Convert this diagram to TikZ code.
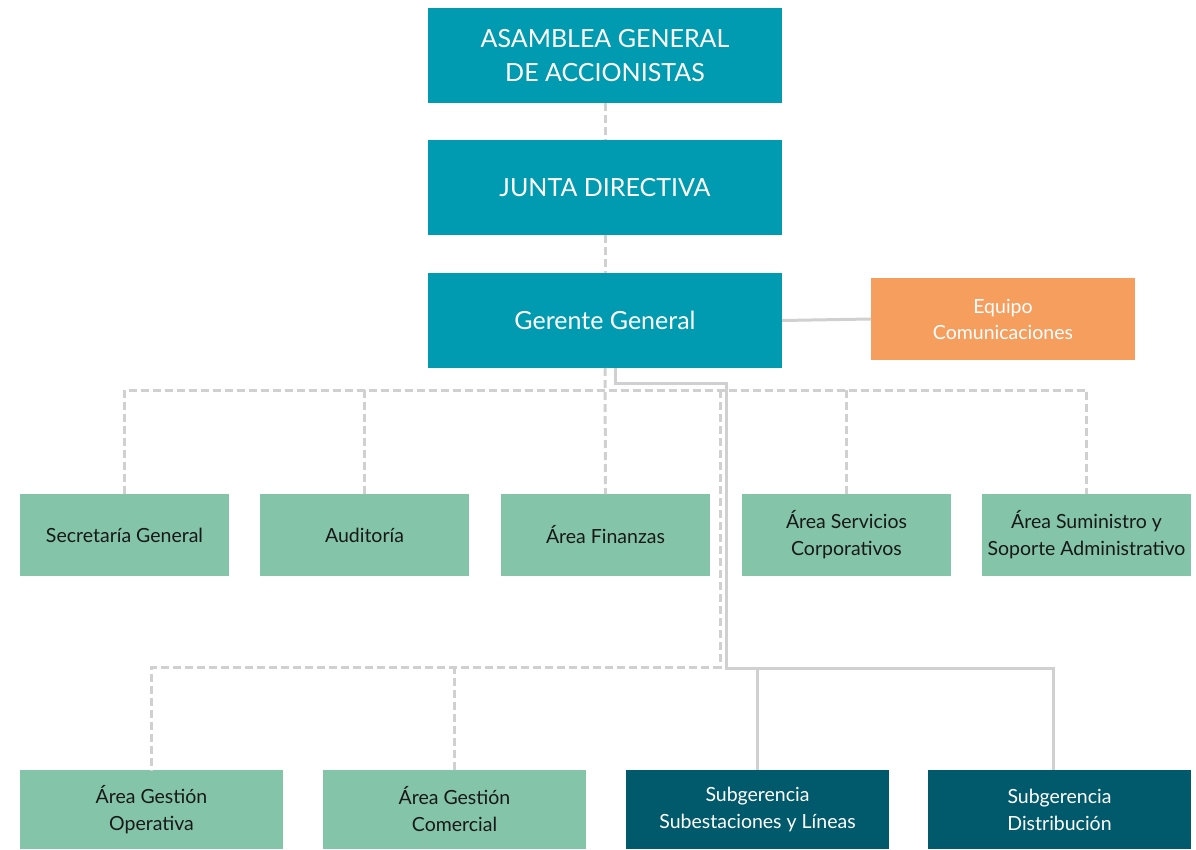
\documentclass[tikz,border=0pt]{standalone}
\usepackage{fontspec}
\setmainfont{Lato}
\usepackage{tikz}

\definecolor{TealBox}{RGB}{0,155,176}
\definecolor{GreenBox}{RGB}{132,196,168}
\definecolor{OrangeBox}{RGB}{245,158,94}
\definecolor{DarkBox}{RGB}{0,90,108}
\definecolor{LineGray}{RGB}{208,208,208}

\begin{document}
\begin{tikzpicture}[x=1pt, y=-1pt]
\useasboundingbox (0,0) rectangle (1196,850);

\tikzset{BoxStyle/.style = {
 shape = rectangle,
 inner sep = 0pt,
 outer sep = 0pt,
 align = center} }
\tikzset{TopStyle/.style = {BoxStyle, fill = TealBox, text = white,
 minimum width = 354pt, minimum height = 95pt,
 font = \fontsize{25}{34}\selectfont} }
\tikzset{SideStyle/.style = {BoxStyle, fill = OrangeBox, text = white,
 minimum width = 264pt, minimum height = 82pt,
 font = \fontsize{19.5}{26}\selectfont} }
\tikzset{AreaStyle/.style = {BoxStyle, fill = GreenBox, text = black!90,
 minimum width = 209pt, minimum height = 82pt,
 font = \fontsize{19.5}{27}\selectfont} }
\tikzset{LowAreaStyle/.style = {AreaStyle, minimum width = 263pt, minimum height = 79pt} }
\tikzset{SubStyle/.style = {LowAreaStyle, fill = DarkBox, text = white} }

\node[TopStyle] (Asamblea) at (605, 55.5) {ASAMBLEA GENERAL\\DE ACCIONISTAS};
\node[TopStyle] (Junta) at (605, 187.5) {JUNTA DIRECTIVA};
\node[TopStyle] (Gerente) at (605, 320.5) {Gerente General};
\node[SideStyle] (Equipo) at (1003, 319) {Equipo\\Comunicaciones};

\node[AreaStyle] (Secretaria) at (124.5, 535) {Secretaría General};
\node[AreaStyle] (Auditoria) at (364.5, 535) {Auditoría};
\node[AreaStyle] (Finanzas) at (605.5, 535) {Área Finanzas};
\node[AreaStyle] (Servicios) at (846.5, 535) {Área Servicios\\Corporativos};
\node[AreaStyle] (Suministro) at (1086.5, 535) {Área Suministro y\\Soporte Administrativo};

\node[LowAreaStyle] (Operativa) at (151.5, 809.5) {Área Gestión\\Operativa};
\node[LowAreaStyle] (Comercial) at (454.5, 809.5) {Área Gestión\\Comercial};
\node[SubStyle] (Subestaciones) at (757.5, 809.5) {Subgerencia\\Subestaciones y Líneas};
\node[SubStyle] (Distribucion) at (1059.5, 809.5) {Subgerencia\\Distribución};


\tikzset{DashLine/.style = {LineGray, line width = 3pt, dash pattern = on 8pt off 4pt} }
\tikzset{SolidLine/.style = {LineGray, line width = 3pt} }

\coordinate (DashBar) at (0, 390);
\coordinate (DashTurn) at (720, 390);
\coordinate (LowBar) at (0, 667);
\coordinate (SolidTop) at (0, 383);
\coordinate (SolidBar) at (726, 668);

\draw[DashLine] (Asamblea.south) -- (Junta.north);
\draw[DashLine] (Junta.south) -- (Gerente.north);
\draw[DashLine] (Gerente.south) -- (Finanzas.north);
\draw[DashLine] (Secretaria.north) -- (Secretaria.north |- DashBar)
 -- (Suministro.north |- DashBar) -- (Suministro.north);
\draw[DashLine] (Auditoria.north) -- (Auditoria.north |- DashBar);
\draw[DashLine] (Servicios.north) -- (Servicios.north |- DashBar);
\draw[DashLine] (DashTurn) -- (DashTurn |- LowBar)
 -- (Operativa.north |- LowBar) -- (Operativa.north);
\draw[DashLine] (Comercial.north) -- (Comercial.north |- LowBar);

\draw[SolidLine] (Gerente.east) -- (Equipo.west);
\draw[SolidLine] ([xshift=10pt]Gerente.south) -- ([xshift=10pt]Gerente.south |- SolidTop)
 -- (SolidBar |- SolidTop) -- (SolidBar) -- ([xshift=-6pt]Distribucion.north |- SolidBar)
 -- ([xshift=-6pt]Distribucion.north);
\draw[SolidLine] (Subestaciones.north) -- (Subestaciones.north |- SolidBar);

\end{tikzpicture}
\end{document}
